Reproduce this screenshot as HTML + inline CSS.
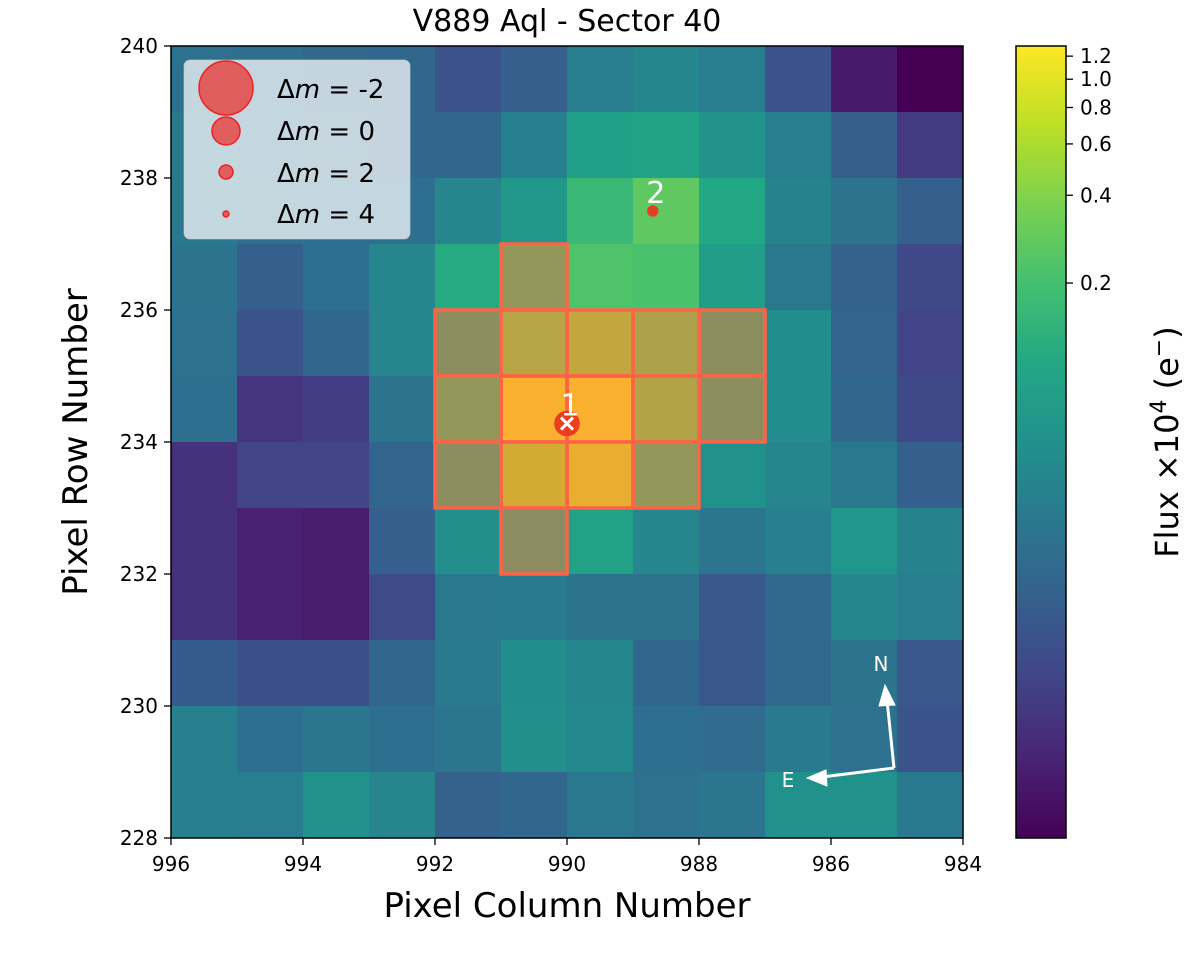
<!DOCTYPE html>
<html><head><meta charset="utf-8"><style>
body{margin:0;background:#fff;}
svg text{font-family:"DejaVu Sans","Liberation Sans",sans-serif;}
</style></head><body>
<svg id="chart" width="1200" height="953" viewBox="0 0 1200 953" xmlns="http://www.w3.org/2000/svg">
<defs>
<linearGradient id="vir" x1="0" y1="1" x2="0" y2="0">
<stop offset="0" stop-color="#440154"/><stop offset="0.1" stop-color="#482475"/><stop offset="0.2" stop-color="#414487"/><stop offset="0.3" stop-color="#355f8d"/><stop offset="0.4" stop-color="#2a788e"/><stop offset="0.5" stop-color="#21918c"/><stop offset="0.6" stop-color="#22a884"/><stop offset="0.7" stop-color="#44bf70"/><stop offset="0.8" stop-color="#7ad151"/><stop offset="0.9" stop-color="#bddf26"/><stop offset="1" stop-color="#fde725"/>
</linearGradient>
</defs>
<g id="cells"></g>
<g id="aperture"></g>
<g id="overlay"></g>
<rect x="171" y="46" width="792" height="792" fill="none" stroke="#000" stroke-width="1.5"/>
<g id="axes"></g>
<text x="567" y="31" font-size="30" text-anchor="middle">V889 Aql - Sector 40</text>
<text x="567" y="917" font-size="34" text-anchor="middle">Pixel Column Number</text>
<text transform="translate(87,442) rotate(-90)" font-size="34" text-anchor="middle">Pixel Row Number</text>
<g>
<rect x="184" y="60" width="226" height="179" rx="6" fill="#fff" fill-opacity="0.72" stroke="#ccc" stroke-opacity="0.6"/>
<g fill="#e35050" fill-opacity="0.9" stroke="#ee2222" stroke-width="1.5">
<circle cx="226" cy="88" r="27"/>
<circle cx="226" cy="131" r="14"/>
<circle cx="226" cy="172" r="7"/>
<circle cx="226" cy="214" r="3"/>
</g>
<g font-size="26" fill="#000">
<text x="277" y="98">Δ<tspan font-style="italic">m</tspan> =  -2</text>
<text x="277" y="140">Δ<tspan font-style="italic">m</tspan> =  0</text>
<text x="277" y="182">Δ<tspan font-style="italic">m</tspan> =  2</text>
<text x="277" y="223">Δ<tspan font-style="italic">m</tspan> =  4</text>
</g>
</g>
<g stroke="#fff" stroke-width="3" fill="#fff">
<line x1="894" y1="768" x2="887" y2="700"/>
<polygon points="885,685 879,706 895,705" stroke-width="1"/>
<line x1="894" y1="768" x2="822" y2="777"/>
<polygon points="807,778 826,770 827,786" stroke-width="1"/>
<text x="881" y="671" font-size="20" stroke="none" text-anchor="middle">N</text>
<text x="788" y="787" font-size="20" stroke="none" text-anchor="middle">E</text>
</g>
<rect x="1016" y="46" width="50" height="792" fill="url(#vir)" stroke="#000" stroke-width="1.5"/>
<g id="cbticks"></g>
<text transform="translate(1178,442) rotate(-90)" font-size="32" text-anchor="middle">Flux ×10<tspan font-size="22" dy="-12">4</tspan><tspan dy="12"> (e</tspan><tspan font-size="22" dy="-12">−</tspan><tspan dy="12">)</tspan></text>
</svg>
<script>
const cols=[996,995,994,993,992,991,990,989,988,987,986,985];
const rows=[239,238,237,236,235,234,233,232,231,230,229,228];
const row239=[0.37,0.36,0.34,0.33,0.25,0.30,0.42,0.46,0.42,0.26,0.07,0.0];
const row238=[0.40,0.36,0.35,0.33,0.33,0.43,0.56,0.58,0.51,0.42,0.30,0.17];
const row237=[0.40,0.37,0.36,0.36,0.45,0.53,0.67,0.75,0.60,0.44,0.38,0.30];
const row236=[0.38,0.30,0.36,0.45,0.61,0.65,0.72,0.71,0.55,0.40,0.31,0.22];
const row235=[0.37,0.26,0.33,0.45,0.58,0.80,0.83,0.76,0.58,0.48,0.32,0.20];
const row234=[0.36,0.15,0.18,0.38,0.65,1.00,1.00,0.78,0.58,0.48,0.33,0.22];
const row233=[0.14,0.20,0.20,0.32,0.58,0.88,0.95,0.65,0.50,0.45,0.40,0.30];
const row232=[0.14,0.09,0.08,0.30,0.49,0.55,0.57,0.45,0.39,0.43,0.52,0.44];
const row231=[0.14,0.09,0.08,0.23,0.40,0.41,0.38,0.38,0.27,0.34,0.45,0.42];
const row230=[0.28,0.24,0.24,0.33,0.41,0.48,0.46,0.33,0.27,0.34,0.38,0.27];
const row229=[0.43,0.36,0.39,0.36,0.39,0.49,0.47,0.36,0.35,0.41,0.37,0.26];
const row228=[0.43,0.42,0.50,0.45,0.31,0.33,0.40,0.37,0.39,0.50,0.50,0.41];
const grid=[row239,row238,row237,row236,row235,row234,row233,row232,row231,row230,row229,row228];
const apertureCells=[[991,236],[992,235],[991,235],[990,235],[989,235],[988,235],[992,234],[991,234],[990,234],[989,234],[988,234],[992,233],[991,233],[990,233],[989,233],[991,232]];
const starCol=[990.0,988.7];
const starRow=[234.28,237.5];
const starR=[12,5];
const starLabel=["1","2"];
const xTicks=[996,994,992,990,988,986,984];
const yTicks=[228,230,232,234,236,238,240];
const cbTicks=[1.2,1.0,0.8,0.6,0.4,0.2];
const cbLabels=["1.2","1.0","0.8","0.6","0.4","0.2"];

const NS="http://www.w3.org/2000/svg";
const X0=171,Y0=46,W=792,H=792;
function xs(c){return X0+(996-c)/12*W;}
function ys(r){return Y0+(240-r)/12*H;}
const vmax=1.3,vmin=0.0025;
function cby(v){return Y0+Math.log(vmax/v)/Math.log(vmax/vmin)*H;}
const vir=[[68,1,84],[72,36,117],[65,68,135],[53,95,141],[42,120,142],[33,145,140],[34,168,132],[68,191,112],[122,209,81],[189,223,38],[253,231,37]];
function viridis(t){t=Math.max(0,Math.min(1,t));const p=t*10,i=Math.min(9,Math.floor(p)),f=p-i;const a=vir[i],b=vir[i+1];return `rgb(${a.map((v,k)=>Math.round(v+(b[k]-v)*f)).join(',')})`;}
function mk(tag,attrs,parent){const e=document.createElementNS(NS,tag);for(const k in attrs)e.setAttribute(k,attrs[k]);parent.appendChild(e);return e;}
const gC=document.getElementById('cells');
grid.forEach((row,ri)=>row.forEach((v,ci)=>{
  const r=mk('rect',{x:xs(cols[ci]),y:ys(rows[ri]+1),width:xs(cols[ci]-1)-xs(cols[ci])+0.5,height:ys(rows[ri])-ys(rows[ri]+1)+0.5,fill:viridis(v)},gC);
  
  
}));
const gA=document.getElementById('aperture');
apertureCells.forEach(([c,r])=>{
  const e=mk('rect',{x:xs(c),y:ys(r+1),width:xs(c-1)-xs(c),height:ys(r)-ys(r+1),fill:'rgb(245,121,57)','fill-opacity':0.5,stroke:'#ff6347','stroke-width':3.5},gA);
  
  
});
const gO=document.getElementById('overlay');
starCol.forEach((c,i)=>{
  const x=xs(c),y=ys(starRow[i]);
  const s=mk('circle',{cx:x,cy:y,r:starR[i],fill:'#e8341c','fill-opacity':0.9,stroke:'#f03a20','stroke-width':1.5},gO);
  
  
  const t=mk('text',{x:x+3,y:y-8,'font-size':30,fill:'#fff','text-anchor':'middle'},gO);
  t.textContent=starLabel[i];
  
  
  if(i===0){
    mk('line',{x1:x-6,y1:y-6,x2:x+6,y2:y+6,stroke:'#fff','stroke-width':3},gO);
    mk('line',{x1:x-6,y1:y+6,x2:x+6,y2:y-6,stroke:'#fff','stroke-width':3},gO);
  }
});
const gX=document.getElementById('axes');
xTicks.forEach(v=>{const x=xs(v);mk('line',{x1:x,y1:838,x2:x,y2:845,stroke:'#000','stroke-width':1.3},gX);
  const t=mk('text',{x:x,y:871,'font-size':20,'text-anchor':'middle'},gX);t.textContent=v;
  
  });
yTicks.forEach(v=>{const y=ys(v);mk('line',{x1:164,y1:y,x2:171,y2:y,stroke:'#000','stroke-width':1.3},gX);
  const t=mk('text',{x:158,y:y+7,'font-size':20,'text-anchor':'end'},gX);t.textContent=v;
  
  });
const gB=document.getElementById('cbticks');
cbTicks.forEach((v,i)=>{const y=cby(v);mk('line',{x1:1066,y1:y,x2:1073,y2:y,stroke:'#000','stroke-width':1.3},gB);
  const t=mk('text',{x:1080,y:y+7,'font-size':20},gB);t.textContent=cbLabels[i];
  
  });
</script>
</body></html>
